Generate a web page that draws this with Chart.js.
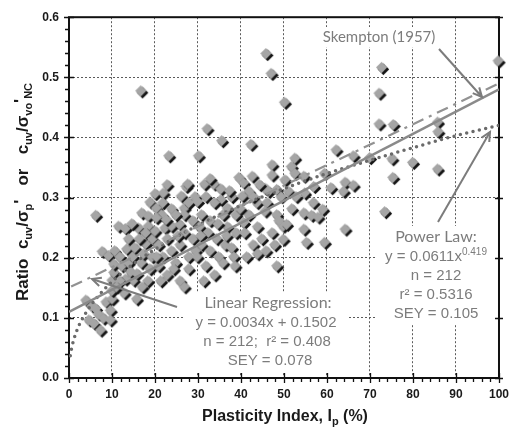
<!DOCTYPE html>
<html><head><meta charset="utf-8">
<script src="https://cdn.jsdelivr.net/npm/chart.js@4/dist/chart.umd.min.js"></script>
<style>html,body{margin:0;padding:0;background:#fff}#wrap{width:518px;height:435px}</style>
</head><body><div id="wrap"><canvas id="c" width="518" height="435"></canvas></div>
<script>
// ---- data ----
const plasticityIndex = [
 4.1,4.8,5.5,6.0,6.4,7.0,7.5,8.2,6.4,7.9,9.4,8.8,9.8,9.8,10.2,10.2,10.2,10.6,10.6,10.8,
 11.7,13.3,13.6,13.3,15.9,15.2,16.3,17.1,18.6,18.6,16.9,19.0,12.0,12.5,14.0,14.5,15.0,15.5,16.0,17.0,17.5,18.0,18.5,19.0,19.5,12.0,13.0,11.2,14.0,16.5,18.0,14.8,19.6,17.2,
 20.2,22.1,20.5,21.7,20.5,20.2,22.5,24.0,25.9,23.4,27.4,27.0,27.8,26.3,27.0,21.0,22.0,23.0,24.0,25.0,26.0,27.0,28.0,29.0,21.0,23.0,24.5,26.0,28.0,29.0,22.0,24.0,25.0,28.0,29.5,23.0,20.5,27.0,25.5,22.8,29.6,21.5,
 30.3,32.3,35.7,31.7,33.9,35.5,39.7,30.1,35.5,37.0,32.0,34.0,38.0,31.0,33.0,36.0,39.0,30.5,32.5,34.5,37.0,39.0,31.0,33.0,35.0,36.5,38.0,30.0,32.0,34.0,31.5,36.0,38.5,37.5,33.0,30.8,34.8,36.8,38.8,
 42.5,40.8,42.8,42.0,40.5,45.8,46.6,48.5,47.4,47.4,43.9,46.2,45.8,48.5,40.8,47.4,46.0,47.2,48.5,42.0,44.0,41.0,43.0,45.0,49.0,41.5,44.0,46.0,48.0,40.0,49.5,43.0,44.5,
 50.3,52.7,51.9,50.4,52.7,51.2,50.0,50.0,50.8,54.8,57.1,55.0,54.8,56.6,58.1,59.2,54.8,55.4,59.6,59.6,52.0,53.0,57.0,
 62.3,66.3,61.1,64.4,66.3,64.0,64.4,
 70.1,72.9,72.3,72.3,75.6,85.9,86.0,75.3,80.1,85.9,75.5,73.6,100
];
const strengthRatio = [
 0.128,0.095,0.118,0.089,0.114,0.105,0.078,0.098,0.269,0.209,0.202,0.125,0.111,0.095,0.130,0.144,0.161,0.174,0.188,0.210,
 0.251,0.247,0.213,0.163,0.130,0.161,0.248,0.273,0.268,0.251,0.476,0.291,0.200,0.185,0.190,0.175,0.200,0.215,0.172,0.190,0.205,0.222,0.160,0.180,0.200,0.160,0.140,0.150,0.230,0.230,0.240,0.255,0.230,0.150,
 0.305,0.306,0.281,0.270,0.265,0.243,0.248,0.251,0.254,0.368,0.317,0.281,0.321,0.301,0.270,0.220,0.200,0.230,0.210,0.190,0.220,0.240,0.200,0.230,0.185,0.170,0.180,0.160,0.180,0.260,0.290,0.280,0.270,0.290,0.300,0.320,0.200,0.150,0.235,0.262,0.210,0.160,
 0.368,0.413,0.393,0.321,0.321,0.313,0.332,0.292,0.295,0.281,0.300,0.290,0.300,0.270,0.260,0.270,0.270,0.250,0.240,0.230,0.250,0.240,0.220,0.210,0.200,0.220,0.215,0.200,0.185,0.170,0.160,0.190,0.200,0.310,0.330,0.235,0.255,0.235,0.185,
 0.387,0.323,0.334,0.309,0.301,0.314,0.309,0.312,0.353,0.336,0.290,0.290,0.276,0.270,0.257,0.240,0.538,0.505,0.185,0.270,0.250,0.240,0.220,0.230,0.260,0.200,0.205,0.210,0.220,0.280,0.300,0.300,0.320,
 0.457,0.364,0.350,0.328,0.339,0.309,0.251,0.229,0.254,0.334,0.317,0.306,0.273,0.269,0.266,0.279,0.246,0.224,0.224,0.339,0.280,0.300,0.290,
 0.378,0.368,0.315,0.324,0.319,0.309,0.246,
 0.365,0.515,0.472,0.421,0.420,0.424,0.408,0.363,0.357,0.346,0.332,0.275,0.526
];
// trend lines
const skemptonX = [0, 100];
const skemptonY = [0.110, 0.480];
const regressionX = [0.5, 100];
const regressionY = [0.152, 0.490];
const powerX = [0.3, 0.6, 1, 2, 3, 5, 7, 10, 15, 20, 30, 40, 50, 60, 70, 80, 90, 100];
const powerY = [0.037, 0.049, 0.061, 0.082, 0.097, 0.120, 0.138, 0.160, 0.190, 0.214, 0.254, 0.287, 0.315, 0.340, 0.362, 0.383, 0.403, 0.420];
const xTickValues = [0,10,20,30,40,50,60,70,80,90,100];
const yTickLabels = ['0.0','0.1','0.2','0.3','0.4','0.5','0.6'];

const pts = (xs, ys) => xs.map((v, i) => ({x: v, y: ys[i]}));

const diamond = (() => {
  const c = document.createElement('canvas'); c.width = 15; c.height = 15;
  const g = c.getContext('2d');
  function d(cx, cy, h, fill) { g.beginPath(); g.moveTo(cx, cy - h); g.lineTo(cx + h, cy); g.lineTo(cx, cy + h); g.lineTo(cx - h, cy); g.closePath(); g.fillStyle = fill; g.fill(); }
  d(8.4, 8.4, 5.8, '#141414');
  d(6.6, 6.6, 5.6, '#a5a5a5');
  return c;
})();

const GREY = '#7c7c7c';
function measure(ctx, list) {
  let w = 0;
  list.forEach(r => { ctx.font = r.f; w += ctx.measureText(r.t).width; });
  return w;
}
function runs(ctx, list, x, y, align, box) {
  const w = measure(ctx, list);
  let cx = align === 'center' ? x - w / 2 : x;
  if (box) {
    const f = ctx.fillStyle; ctx.fillStyle = '#fff';
    ctx.fillRect(cx - 3, y - 10, w + 6, 20);
    ctx.fillStyle = f;
  }
  list.forEach(r => { ctx.font = r.f; ctx.fillText(r.t, cx, y + (r.dy || 0)); cx += ctx.measureText(r.t).width; });
}
function arrow(ctx, x1, y1, x2, y2) {
  ctx.beginPath(); ctx.moveTo(x1, y1); ctx.lineTo(x2, y2); ctx.stroke();
  const a = Math.atan2(y2 - y1, x2 - x1), L = 10, s = 0.45;
  ctx.beginPath();
  ctx.moveTo(x2 - L * Math.cos(a - s), y2 - L * Math.sin(a - s));
  ctx.lineTo(x2, y2);
  ctx.lineTo(x2 - L * Math.cos(a + s), y2 - L * Math.sin(a + s));
  ctx.stroke();
}

const decor = {
  id: 'decor',
  beforeDatasetsDraw(chart) {
    const {ctx, chartArea: a, scales: {x, y}} = chart;
    ctx.save();
    // white panels behind annotation text (grid hidden there)
    ctx.fillStyle = '#fff';
    ctx.fillRect(318, 27, 122, 20);
    ctx.fillRect(376, 226, 122, 98);
    ctx.fillRect(183, 292, 166, 80);
    ctx.strokeStyle = '#111'; ctx.lineWidth = 2;
    ctx.strokeRect(a.left, a.top, a.right - a.left, a.bottom - a.top);
    ctx.lineWidth = 1.3;
    ctx.beginPath();
    for (let i = 0; i <= 50; i++) {
      const px = Math.round(x.getPixelForValue(i * 2)) + 0.5, major = i % 5 === 0;
      ctx.moveTo(px, a.bottom + (major ? 5 : 4)); ctx.lineTo(px, a.bottom - (major ? 5 : 0));
    }
    for (let i = 0; i <= 30; i++) {
      const py = Math.round(y.getPixelForValue(i * 0.02)) + 0.5, major = i % 5 === 0;
      ctx.moveTo(a.left - (major ? 5 : 4), py); ctx.lineTo(a.left + (major ? 5 : 0), py);
      if (major) { ctx.moveTo(a.right - 4, py); ctx.lineTo(a.right + 4, py); }
    }
    ctx.stroke();
    ctx.restore();
  },
  afterDraw(chart) {
    const {ctx} = chart;
    ctx.save();
    ctx.fillStyle = '#1a1a1a'; ctx.textBaseline = 'alphabetic';
    // x title
    runs(ctx, [
      {t: 'Plasticity Index, I', f: 'bold 16px "Liberation Sans"'},
      {t: 'p', f: 'bold 11px "Liberation Sans"', dy: 4},
      {t: ' (%)', f: 'bold 16px "Liberation Sans"'}
    ], 285, 421, 'center');
    // y title
    ctx.translate(28, 192); ctx.rotate(-Math.PI / 2);
    const B = 'bold 17px "Liberation Sans"', S = 'bold 11px "Liberation Sans"';
    runs(ctx, [
      {t: 'Ratio  c', f: B}, {t: 'uv', f: S, dy: 4}, {t: '/σ', f: B}, {t: 'p', f: S, dy: 4}, {t: '\'', f: B, dy: -2},
      {t: '   or   c', f: B}, {t: 'uv', f: S, dy: 4}, {t: '/σ', f: B}, {t: 'vo', f: S, dy: 4}, {t: '\'', f: B, dy: -2}, {t: 'NC', f: S, dy: 4}
    ], 0, 0, 'center');
    ctx.restore();

    // annotations
    ctx.save();
    ctx.fillStyle = GREY; ctx.strokeStyle = GREY; ctx.lineWidth = 2; ctx.textAlign = 'left'; ctx.textBaseline = 'middle';
    const LBL = '15px Lato', NUM = '15px "Liberation Sans"';
    runs(ctx, [{t: 'Skempton (1957)', f: LBL}], 379, 37, 'center');
    arrow(ctx, 439, 49, 482, 97);

    runs(ctx, [{t: 'Power Law:', f: '16px Lato'}], 436, 237, 'center');
    runs(ctx, [{t: 'y = 0.0611x', f: NUM}, {t: '0.419', f: '10px "Liberation Sans"', dy: -5}], 436, 257, 'center');
    runs(ctx, [{t: 'n = 212', f: NUM}], 436, 276, 'center');
    runs(ctx, [{t: 'r² = 0.5316', f: NUM}], 436, 295, 'center');
    runs(ctx, [{t: 'SEY = 0.105', f: NUM}], 436, 314, 'center');
    arrow(ctx, 438, 222, 490, 132);

    runs(ctx, [{t: 'Linear Regression:', f: '16px Lato'}], 268, 303, 'center');
    runs(ctx, [{t: 'y = 0.0034x + 0.1502', f: NUM}], 266, 323, 'center');
    runs(ctx, [{t: 'n = 212;  r² = 0.408', f: NUM}], 267, 342, 'center');
    runs(ctx, [{t: 'SEY = 0.078', f: NUM}], 270, 361, 'center');
    arrow(ctx, 177, 307, 92, 279);
    ctx.restore();
  }
};

new Chart(document.getElementById('c'), {
  type: 'scatter',
  data: {
    datasets: [
      {type: 'line', data: pts(skemptonX, skemptonY), borderColor: '#8a8a8a', borderWidth: 2.5, pointRadius: 0, order: 1},
      {type: 'line', data: pts(regressionX, regressionY), borderColor: '#929292', borderWidth: 2.2, borderDash: [12, 6, 3, 6], pointRadius: 0, order: 1},
      {type: 'line', data: pts(powerX, powerY), borderColor: '#6a6a6a', borderWidth: 3.5, borderDash: [0, 6.5], borderCapStyle: 'round', cubicInterpolationMode: 'monotone', pointRadius: 0, order: 1},
      {data: pts(plasticityIndex, strengthRatio), pointStyle: diamond, pointRadius: 6, clip: false, order: 2}
    ]
  },
  options: {
    responsive: false, animation: false, events: [],
    layout: {padding: {top: 13, right: 14, left: 0, bottom: 0}},
    plugins: {legend: {display: false}, tooltip: {enabled: false}},
    scales: {
      x: {
        type: 'linear', min: 0, max: 100,
        afterFit: s => { s.height = 57; },
        afterBuildTicks: s => { s.ticks = xTickValues.map(v => ({value: v})); },
        ticks: {font: {family: '"Liberation Sans"', weight: 'bold', size: 12}, color: '#1a1a1a', padding: 9, maxRotation: 0,
                callback: v => String(v)},
        grid: {color: '#5a5a5a', lineWidth: 1, drawTicks: false},
        border: {display: false, dash: [2, 2]}
      },
      y: {
        min: 0, max: 0.6,
        afterFit: s => { s.width = 69; },
        afterBuildTicks: s => { s.ticks = yTickLabels.map(t => ({value: parseFloat(t)})); },
        ticks: {font: {family: '"Liberation Sans"', weight: 'bold', size: 12}, color: '#1a1a1a', padding: 10,
                callback: v => yTickLabels[Math.round(v * 10)]},
        grid: {color: '#5a5a5a', lineWidth: 1, drawTicks: false},
        border: {display: false, dash: [2, 2]}
      }
    }
  },
  plugins: [decor]
});
</script></body></html>
